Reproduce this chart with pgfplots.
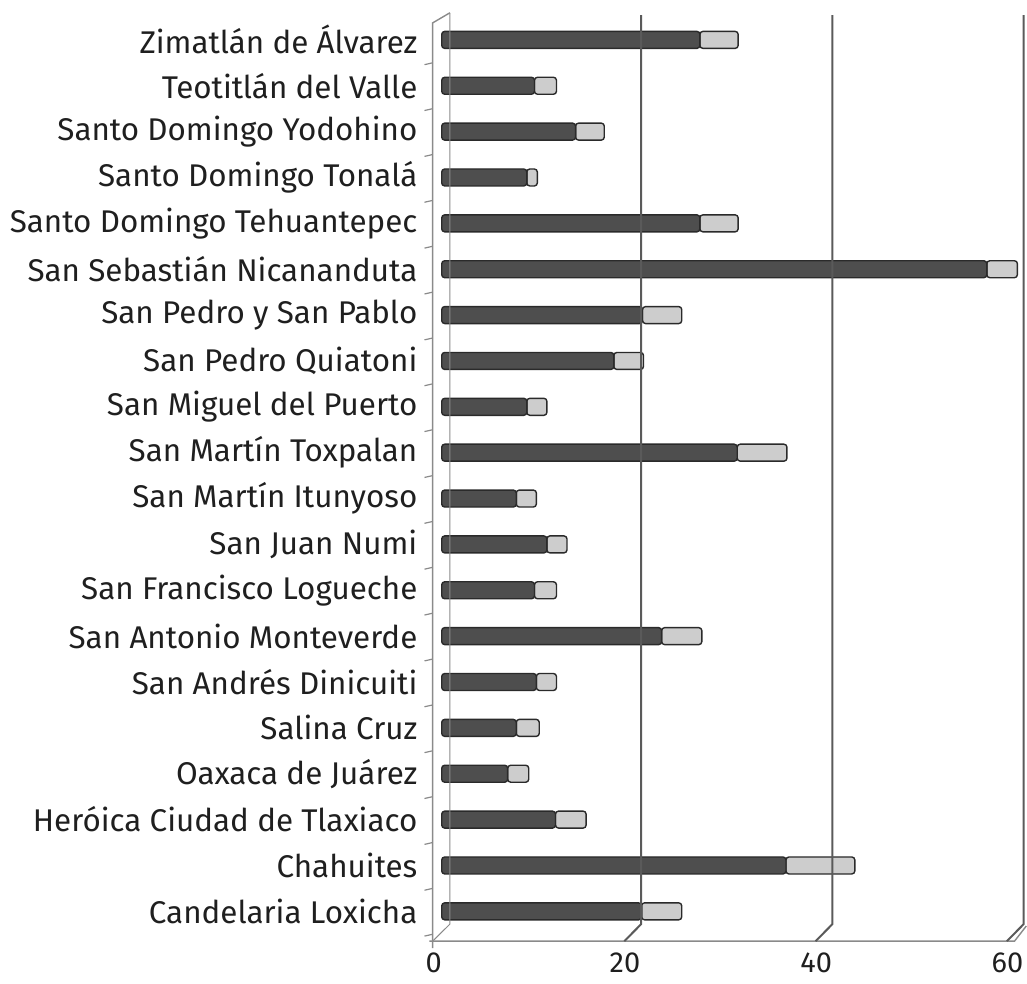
\documentclass[border=0pt]{standalone}
\usepackage{fontspec}
\setmainfont{Fira Sans}
\usepackage{pgfplots}
\pgfplotsset{compat=1.18}
\definecolor{darkbar}{HTML}{4E4E4E}
\definecolor{darkbarE}{HTML}{2A2A2A}
\definecolor{lightbar}{HTML}{CDCDCD}
\definecolor{gridc}{HTML}{5A5A5A}
\definecolor{wallc}{HTML}{8A8A8A}
\begin{document}
\begin{tikzpicture}
\begin{axis}[
  scale only axis,
  width=291.9pt, height=459pt,
  xmin=0, xmax=61, ymin=-0.5, ymax=19.5,
  enlargelimits=false,
  clip=false,
  xbar stacked,
  bar width=8.5pt,
  axis line style={draw=none},
  tick style={draw=none},
  xtick={0,20,40,60},
  ytick={0,...,19},
  yticklabels={Candelaria Loxicha, Chahuites, Heróica Ciudad de Tlaxiaco, Oaxaca de Juárez, Salina Cruz, San Andrés Dinicuiti, San Antonio Monteverde, San Francisco Logueche, San Juan Numi, San Martín Itunyoso, San Martín Toxpalan, San Miguel del Puerto, San Pedro Quiatoni, San Pedro y San Pablo, San Sebastián Nicananduta, Santo Domingo Tehuantepec, Santo Domingo Tonalá, Santo Domingo Yodohino, Teotitlán del Valle, Zimatlán de Álvarez\ },
  /pgf/number format/assume math mode=true,
  yticklabel style={font=\fontsize{15.7}{18}\selectfont, text=black!88, anchor=east, inner sep=0pt, xshift=-12pt},
  xticklabel style={font=\fontsize{14.5}{17}\selectfont, text=black!88, anchor=north, inner sep=0pt, yshift=-9pt, xshift=-4pt},
]
% invisible frame giving the picture its size
\path (axis cs:-46.19,-1.567) rectangle (axis cs:61.13,19.87);
% back wall line at 0
\draw[wallc, line width=0.5pt] (axis cs:0.85,19.59) -- (axis cs:0.85,-0.28) -- (axis cs:-0.95,-0.65);
% gridlines
\draw[gridc, line width=1pt] (axis cs:20.85,19.54) -- (axis cs:20.85,-0.28) -- (axis cs:19.1,-0.65);
\draw[gridc, line width=1pt] (axis cs:40.85,19.54) -- (axis cs:40.85,-0.28) -- (axis cs:39.1,-0.65);
\draw[gridc, line width=1pt] (axis cs:60.85,19.54) -- (axis cs:60.85,-0.28) -- (axis cs:59.1,-0.65);
% front left wall line with top curl
\draw[wallc, line width=0.7pt] (axis cs:0.85,19.59) -- (axis cs:-0.95,19.37) -- (axis cs:-0.95,-0.8);
% floor line
\draw[wallc, line width=0.7pt] (axis cs:-1.3,-0.65) -- (axis cs:59.9,-0.65) -- (axis cs:61.13,-0.32);
% category ticks
\draw[wallc, line width=0.6pt]
  (axis cs:-0.95,-0.5) -- (axis cs:-1.8,-0.54)
  (axis cs:-0.95,0.5) -- (axis cs:-1.8,0.46)
  (axis cs:-0.95,1.5) -- (axis cs:-1.8,1.46)
  (axis cs:-0.95,2.5) -- (axis cs:-1.8,2.46)
  (axis cs:-0.95,3.5) -- (axis cs:-1.8,3.46)
  (axis cs:-0.95,4.5) -- (axis cs:-1.8,4.46)
  (axis cs:-0.95,5.5) -- (axis cs:-1.8,5.46)
  (axis cs:-0.95,6.5) -- (axis cs:-1.8,6.46)
  (axis cs:-0.95,7.5) -- (axis cs:-1.8,7.46)
  (axis cs:-0.95,8.5) -- (axis cs:-1.8,8.46)
  (axis cs:-0.95,9.5) -- (axis cs:-1.8,9.46)
  (axis cs:-0.95,10.5) -- (axis cs:-1.8,10.46)
  (axis cs:-0.95,11.5) -- (axis cs:-1.8,11.46)
  (axis cs:-0.95,12.5) -- (axis cs:-1.8,12.46)
  (axis cs:-0.95,13.5) -- (axis cs:-1.8,13.46)
  (axis cs:-0.95,14.5) -- (axis cs:-1.8,14.46)
  (axis cs:-0.95,15.5) -- (axis cs:-1.8,15.46)
  (axis cs:-0.95,16.5) -- (axis cs:-1.8,16.46)
  (axis cs:-0.95,17.5) -- (axis cs:-1.8,17.46)
  (axis cs:-0.95,18.5) -- (axis cs:-1.8,18.46);
\addplot[draw=darkbarE, line width=0.7pt, fill=darkbar, rounded corners=1.5pt] coordinates {
(20.9,0) (36.0,1) (11.9,2) (6.9,3) (7.8,4) (9.9,5) (23.0,6) (9.7,7) (11.0,8) (7.8,9)
(30.9,10) (8.9,11) (18.0,12) (21.0,13) (57.0,14) (27.0,15) (8.9,16) (14.0,17) (9.7,18) (27.0,19)
};
\addplot[draw=darkbarE, line width=0.7pt, fill=lightbar, rounded corners=1.5pt] coordinates {
(4.2,0) (7.2,1) (3.2,2) (2.2,3) (2.4,4) (2.1,5) (4.2,6) (2.3,7) (2.1,8) (2.1,9)
(5.2,10) (2.1,11) (3.1,12) (4.1,13) (3.2,14) (4.0,15) (1.1,16) (3.0,17) (2.3,18) (4.0,19)
};
\end{axis}
\end{tikzpicture}
\end{document}
